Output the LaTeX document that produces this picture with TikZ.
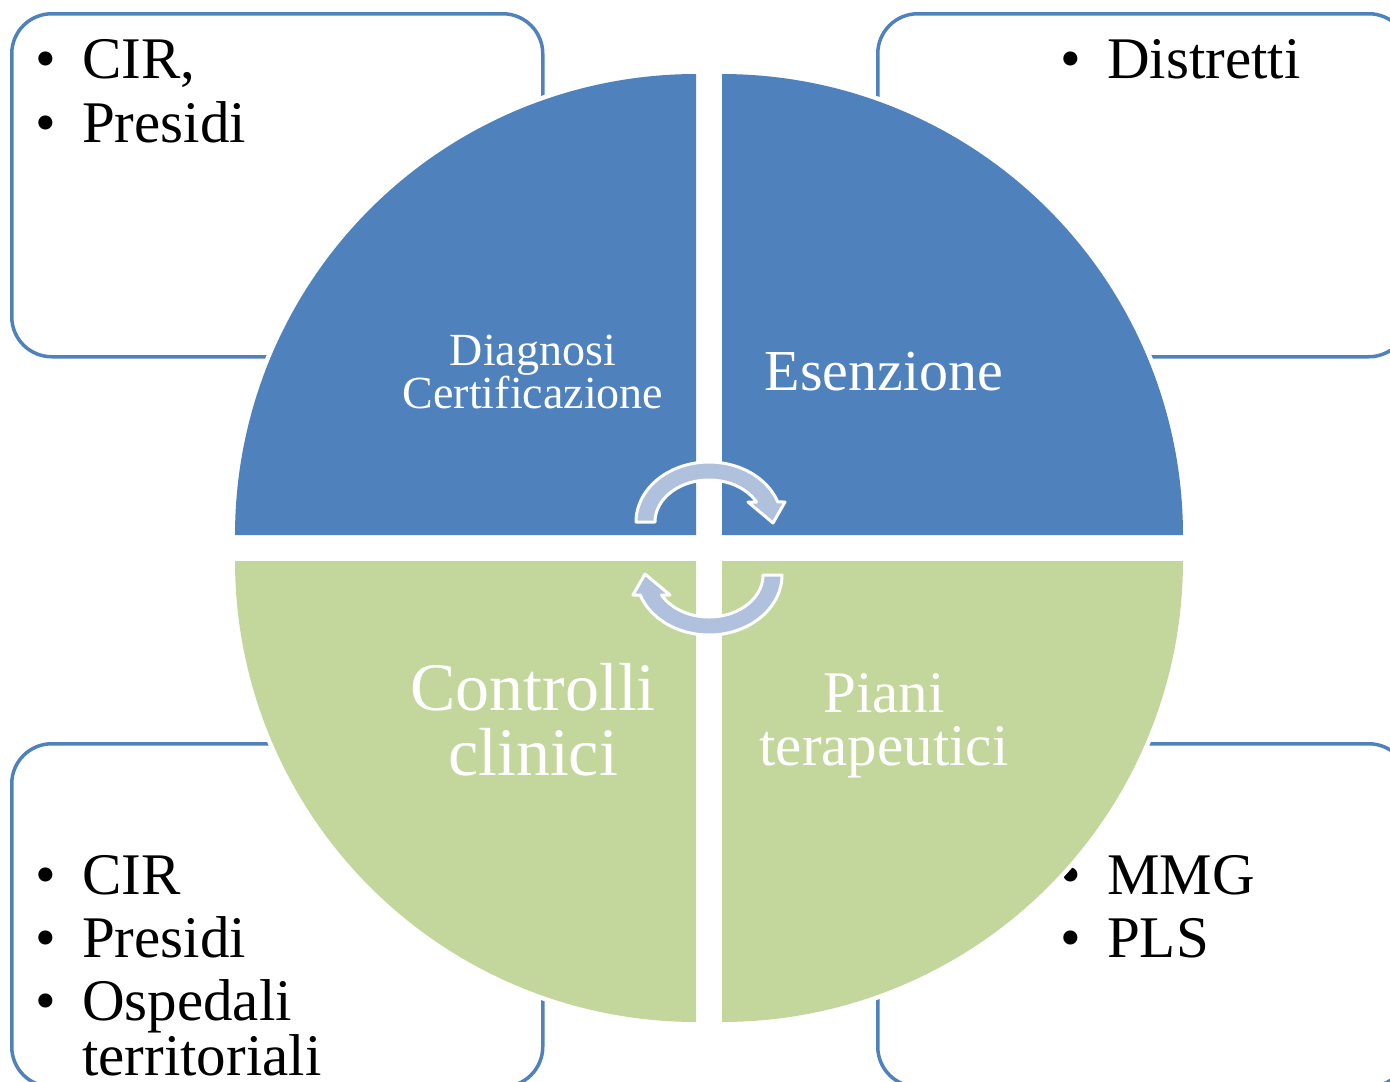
\documentclass[tikz,border=0pt]{standalone}
\usepackage{fontspec}
\setmainfont{Liberation Serif}
\definecolor{qblue}{HTML}{4F81BD}
\definecolor{qgreen}{HTML}{C3D69B}
\definecolor{arrowfill}{HTML}{B0C1DD}
\newcommand\mybul{\makebox[47pt][l]{\textbullet}}
\begin{document}
\begin{tikzpicture}[x=1pt,y=-1pt,
  infobox/.style={draw=qblue, line width=3.5pt, rounded corners=40pt, fill=white,
    minimum width=531pt, minimum height=343pt, anchor=north west, inner sep=0pt},
  listline/.style={anchor=base west, inner sep=0pt, font=\fontsize{59}{64}\selectfont},
  qlabel/.style={anchor=base, inner sep=0pt, text=white},
  quad/.style={preaction={draw=white, line width=9pt}},
  cyclearrow/.style={fill=arrowfill, draw=white, line width=3pt, line join=round}]
\useasboundingbox (0,0) rectangle (1390,1082);

% side boxes
\node[infobox] (boxTL) at (10,12) {};
\node[infobox] (boxTR) at (876,12) {};
\node[infobox] (boxBL) at (10,742) {};
\node[infobox] (boxBR) at (876,742) {};

% box texts
\node[listline] (tl1) at (35,78) {\mybul CIR,};
\node[listline] (tl2) at (35,142) {\mybul Presidi};
\node[listline] (tr1) at (1060,78) {\mybul Distretti};
\node[listline] (bl1) at (35,894) {\mybul CIR};
\node[listline] (bl2) at (35,957) {\mybul Presidi};
\node[listline] (bl3) at (35,1020) {\mybul Ospedali};
\node[listline] (bl4) at (35,1075) {\hspace*{47pt}territoriali};
\node[listline] (br1) at (1060,894) {\mybul MMG};
\node[listline] (br2) at (1060,957) {\mybul PLS};

% quadrants
\path[quad, fill=qblue] (696,535) -- plot[domain=180:90, samples=90] ({696+461*cos(\x)}, {535-461*sin(\x)}) -- cycle;
\path[quad, fill=qblue] (722,535) -- plot[domain=90:0, samples=90] ({722+461*cos(\x)}, {535-461*sin(\x)}) -- cycle;
\path[quad, fill=qgreen] (696,561) -- plot[domain=180:270, samples=90] ({696+461*cos(\x)}, {561-461*sin(\x)}) -- cycle;
\path[quad, fill=qgreen] (722,561) -- plot[domain=270:360, samples=90] ({722+461*cos(\x)}, {561-461*sin(\x)}) -- cycle;

% quadrant labels
\node[qlabel, font=\fontsize{46}{50}\selectfont] (dg1) at (533,365) {Diagnosi};
\node[qlabel, font=\fontsize{46}{50}\selectfont] (dg2) at (533,408) {Certificazione};
\node[qlabel, font=\fontsize{58}{60}\selectfont] (es) at (884,390) {Esenzione};
\node[qlabel, font=\fontsize{68}{70}\selectfont] (cc1) at (533,710) {Controlli};
\node[qlabel, font=\fontsize{68}{70}\selectfont] (cc2) at (533,775) {clinici};
\node[qlabel, font=\fontsize{59}{60}\selectfont] (pt1) at (884,712) {Piani};
\node[qlabel, font=\fontsize{59}{60}\selectfont] (pt2) at (884,765) {terapeutici};

% circular arrows
\path[cyclearrow] plot[domain=180:19.5, samples=60] ({709+73*cos(\x)}, {522-60*sin(\x)})
  -- (785,502) -- (773,523) -- (748,502) -- (756.5,502)
  -- plot[domain=28.4:180, samples=60] ({709+54*cos(\x)}, {522-42*sin(\x)}) -- cycle;
\path[cyclearrow] plot[domain=180:19.5, samples=60] ({709-73*cos(\x)}, {575+60*sin(\x)})
  -- (633,595) -- (645,574) -- (670,595) -- (661.5,595)
  -- plot[domain=28.4:180, samples=60] ({709-54*cos(\x)}, {575+42*sin(\x)}) -- cycle;
\end{tikzpicture}
\end{document}
